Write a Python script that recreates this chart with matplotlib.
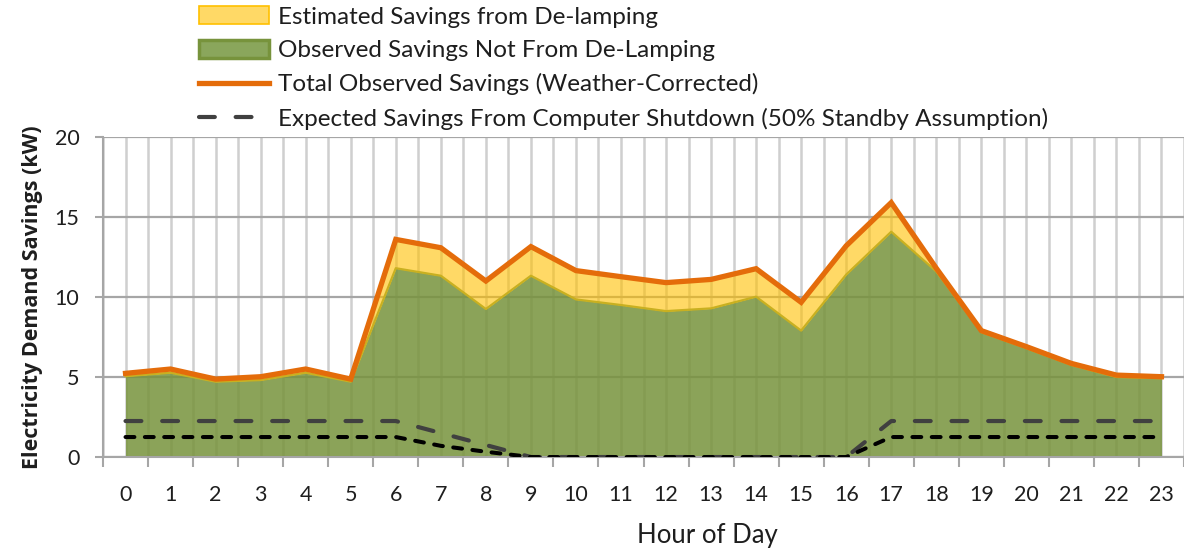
import numpy as np
import matplotlib
matplotlib.use('Agg')
import matplotlib.pyplot as plt
from matplotlib.patches import Patch
from matplotlib.lines import Line2D

plt.rcParams['font.family'] = ['Lato', 'DejaVu Sans']

# values (kW)
hours = list(range(24))
not_delamping = [5.05, 5.27, 4.71, 4.81, 5.27, 4.71, 11.8, 11.33, 9.25, 11.33, 9.85, 9.5,
                 9.12, 9.29, 10.02, 7.9, 11.4, 14.08, 11.6, 7.8, 6.8, 5.75, 5.0, 4.92]
delamping = [0.18, 0.23, 0.16, 0.21, 0.23, 0.16, 1.8, 1.75, 1.75, 1.82, 1.8, 1.77,
             1.78, 1.81, 1.75, 1.77, 1.8, 1.82, 0.2, 0.1, 0.1, 0.1, 0.12, 0.1]
total_observed = [5.23, 5.5, 4.87, 5.02, 5.5, 4.87, 13.6, 13.08, 11.0, 13.15, 11.65, 11.27,
                  10.9, 11.1, 11.77, 9.67, 13.2, 15.9, 11.8, 7.9, 6.9, 5.85, 5.12, 5.02]
expected_shutdown = [2.25, 2.25, 2.25, 2.25, 2.25, 2.25, 2.25, 1.5, 0.75, 0, 0, 0,
                     0, 0, 0, 0, 0, 2.25, 2.25, 2.25, 2.25, 2.25, 2.25, 2.25]
expected_other = [1.25, 1.25, 1.25, 1.25, 1.25, 1.25, 1.25, 0.7, 0.33, 0, 0, 0,
                  0, 0, 0, 0, 0, 1.25, 1.25, 1.25, 1.25, 1.25, 1.25, 1.25]

labels = ['Estimated Savings from De-lamping',
          'Observed Savings Not From De-Lamping',
          'Total Observed Savings (Weather-Corrected)',
          'Expected Savings From Computer Shutdown (50% Standby Assumption)']

GREEN = '#77933C'
YELLOW = '#FFC000'
ORANGE = '#E46C0A'
GRAY = '#404040'
TXT = '#1E1E1E'

fig = plt.figure(figsize=(11.84, 5.48), dpi=100)
ax = fig.add_axes([0.087, 0.166, 0.913, 0.584])

x = np.array(hours)
green_top = np.array(not_delamping)
yellow_top = green_top + np.array(delamping)

ax.fill_between(x, 0, green_top, color=GREEN, alpha=0.85, lw=0, zorder=2)
ax.plot(x, green_top, color='#C9B020', lw=1.6, zorder=3)
ax.fill_between(x, green_top, yellow_top, color=YELLOW, alpha=0.6, lw=0, zorder=2)
ax.plot(x, total_observed, color=ORANGE, lw=3.8, zorder=5, solid_joinstyle='miter')
ax.plot(x, expected_shutdown, color=GRAY, lw=3, dashes=(3.8, 5.0),
        dash_capstyle='round', zorder=4)
ax.plot(x, expected_other, color='black', lw=2.9, dashes=(2.2, 2.6),
        dash_capstyle='round', zorder=4)

ax.set_xlim(-0.5, 23.29)
ax.set_ylim(0, 20)
ax.set_yticks([0, 5, 10, 15, 20])
ax.set_xticks(np.arange(-0.5, 24, 1))
ax.set_xticklabels([])
ax.set_xticks(hours, minor=True)
ax.set_xticklabels([str(h) for h in hours], minor=True)
ax.tick_params(axis='x', which='major', length=7, width=1.5, color='#A6A6A6')
ax.tick_params(axis='x', which='minor', length=0, pad=20, labelsize=15.5, labelcolor=TXT)
ax.tick_params(axis='y', length=6, width=1.5, color='#A6A6A6', pad=11,
               labelsize=15.5, labelcolor=TXT)

ax.grid(axis='x', which='both', color='#CFCFCF', lw=1.8, zorder=0)
ax.grid(axis='y', which='major', color='#A6A6A6', lw=1.6, zorder=0)
ax.set_axisbelow(True)
for s in ['top', 'right']:
    ax.spines[s].set_visible(False)
for s in ['left', 'bottom']:
    ax.spines[s].set_color('#A6A6A6')
    ax.spines[s].set_linewidth(1.5)

ax.set_xlabel('Hour of Day', fontsize=18.5, color=TXT, labelpad=13)
ax.xaxis.label.set_x(0.559)
ax.set_ylabel('Electricity Demand Savings (kW)', fontsize=15.5, fontweight='bold',
              family=['Open Sans', 'DejaVu Sans'], color=TXT, labelpad=8)

handles = [Patch(facecolor='#FFD966', edgecolor=YELLOW, lw=1.2),
           Patch(facecolor='#8AA65C', edgecolor=GREEN, lw=2.5),
           Line2D([], [], color=ORANGE, lw=3.8),
           Line2D([], [], color=GRAY, lw=3, dashes=(3.8, 5.0), dash_capstyle='round')]
fig.legend(handles, labels, loc='upper left', bbox_to_anchor=(0.166, 0.993),
           frameon=False, fontsize=17.5, handlelength=2.9, handleheight=0.75,
           handletextpad=0.35, labelspacing=0.5, labelcolor=TXT, borderaxespad=0,
           borderpad=0.1)

fig.savefig('out.png', dpi=100)
